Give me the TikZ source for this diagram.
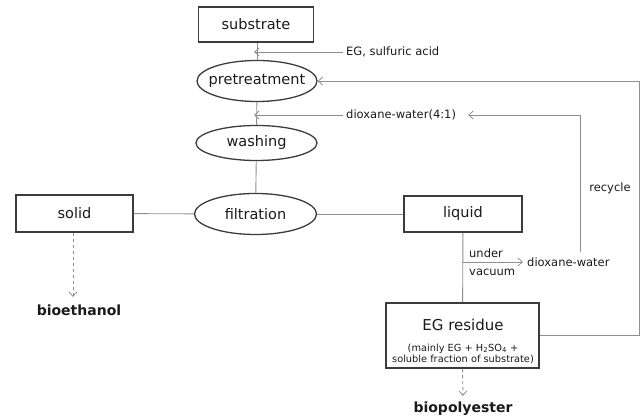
\documentclass[tikz,border=0pt]{standalone}
\usepackage{fontspec}
\setmainfont{DejaVu Sans}
\usetikzlibrary{shapes.geometric,arrows.meta}
\definecolor{txtc}{HTML}{1A1A1A}
\definecolor{boxc}{HTML}{3C3C3C}
\definecolor{linec}{HTML}{8F8F8F}
\tikzset{
  box/.style={draw=boxc, line width=1.7pt, rectangle, inner sep=0pt, text=txtc, font=\fontsize{14.5}{16}\selectfont},
  oval/.style={draw=boxc, line width=1.3pt, ellipse, inner sep=0pt, text=txtc, font=\fontsize{14.5}{16}\selectfont},
  conn/.style={draw=linec, line width=0.9pt},
  arr/.style={-{Straight Barb[length=4.5pt,width=8pt,line width=0.8pt]}},
  dsh/.style={dash pattern=on 3.5pt off 2.5pt},
  lbl/.style={inner sep=0pt, text=txtc, font=\fontsize{11.5}{13}\selectfont},
  small/.style={inner sep=0pt, text=txtc, font=\fontsize{9.8}{11}\selectfont},
  prod/.style={inner sep=0pt, text=txtc, font=\bfseries\fontsize{14}{16}\selectfont},
}
\begin{document}
\begin{tikzpicture}[x=1pt,y=-1pt]
\useasboundingbox (0,0) rectangle (641,419);
% main nodes
\node[box, minimum width=115, minimum height=35] (sub) at (256,24.5) {substrate};
\node[oval, minimum width=120, minimum height=41] (pre) at (257,81) {\makebox[0pt]{pretreatment}};
\node[oval, minimum width=121, minimum height=35] (wash) at (256.5,143) {\makebox[0pt]{washing}};
\node[oval, minimum width=122, minimum height=41] (filt) at (255.5,214) {\makebox[0pt]{filtration}};
\node[box, minimum width=117, minimum height=37] (solid) at (74.5,213.5) {solid};
\node[box, minimum width=118, minimum height=36] (liq) at (463,214) {liquid};
\node[box, minimum width=153, minimum height=65] (egr) at (462.5,335.5) {};
\node[inner sep=0pt, text=txtc, font=\fontsize{15}{16}\selectfont] (egr1) at (463,325) {EG residue};
\node[small] (egr2) at (463,348.5) {(mainly EG + H\textsubscript{2}SO\textsubscript{4} +};
\node[small] (egr3) at (463,359.5) {soluble fraction of substrate)};
\node[prod] (bioe) at (79,310) {bioethanol};
\node[prod] (biop) at (463,409) {biopolyester};
% side labels
\node[lbl, anchor=west] (egt) at (346,52) {EG, sulfuric acid};
\node[lbl, anchor=west] (dxt) at (346,115) {dioxane-water(4:1)};
\node[lbl, anchor=west] (und) at (469,253) {under};
\node[lbl, anchor=west] (vac) at (469,272) {vacuum};
\node[lbl, anchor=west] (dw) at (527,262) {dioxane-water};
\node[lbl] (rec) at (610,188) {recycle};
\coordinate (dwtop) at (580,252);
\coordinate (rightc) at (639.5,335);
\coordinate (bioetop) at (73,297);
% main flow
\draw[conn] (sub.south -| pre.north) -- (pre.north);
\draw[conn] (pre) -- (wash);
\draw[conn] (wash) -- (filt);
\draw[conn] (solid) -- (filt);
\draw[conn] (filt) -- (liq);
\draw[conn] (liq) -- (egr);
% input arrows
\draw[conn,arr] ([xshift=-3pt]egt.west) -- ([xshift=-3pt]egt.west -| pre.north);
\draw[conn,arr] ([xshift=-3pt]dxt.west) -- ([xshift=-3pt]dxt.west -| pre.north);
% vacuum
\draw[conn,arr] (liq.south |- dw.west) -- ([xshift=-4pt]dw.west);
% recycle
\draw[conn,arr] (dwtop) |- ([xshift=12pt]dxt.east);
% EG residue loop
\draw[conn,arr] (egr.east |- rightc) -- (rightc) |- (pre.east);
% products
\draw[conn,dsh,arr] (solid.south -| bioetop) -- (bioetop);
\draw[conn,dsh,arr] (egr.south) -- ([yshift=6pt]biop.north);
\end{tikzpicture}
\end{document}
